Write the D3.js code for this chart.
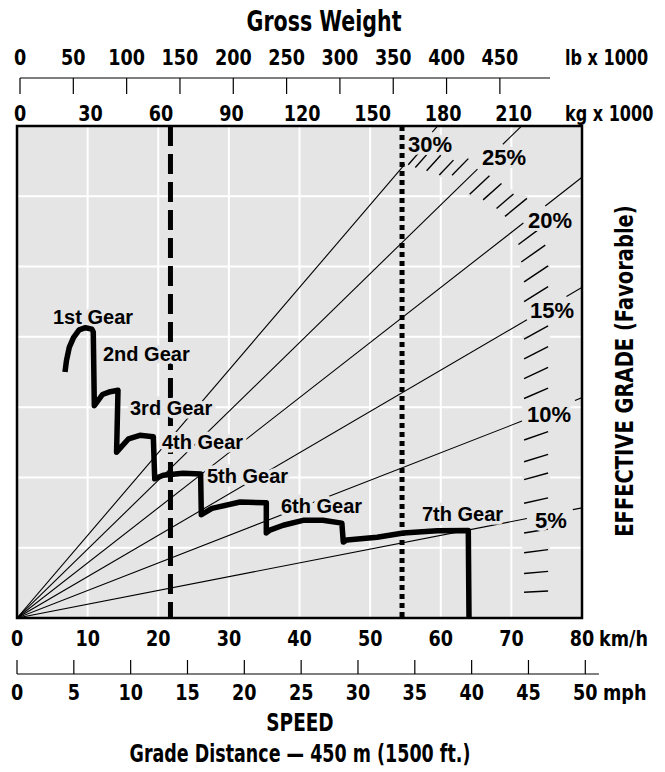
<!DOCTYPE html>
<html>
<head>
<meta charset="utf-8">
<script src="https://cdn.jsdelivr.net/npm/d3@7"></script>
<style>
  body { margin: 0; background: #fff; }
  .cond { font-family: "DejaVu Sans", sans-serif; font-weight: bold; }
  .reg { font-family: "Liberation Sans", Arial, sans-serif; font-weight: bold; }
</style>
</head>
<body>
<div class="container"></div>
<script>
"use strict";

// top axes (gross weight)
const lbTicks = [0, 50, 100, 150, 200, 250, 300, 350, 400, 450];
const kgTicks = [0, 30, 60, 90, 120, 150, 180, 210];
// bottom axes (speed)
const kmhTicks = [0, 10, 20, 30, 40, 50, 60, 70, 80];
const mphTicks = [0, 5, 10, 15, 20, 25, 30, 35, 40, 45, 50];

// empty / loaded gross weight, kg x 1000
const emptyKg = 64;
const loadedKg = 162.5;

// effective grade lines: [grade %, km/h where line stops, km/h where it starts again]
const gradeLines = [
  [5, 72.2, 78.7],
  [10, 71.5, 79.0],
  [15, 72.2, 77.8],
  [20, 71.7, 74.8],
  [25, 65.2, 68.8],
  [30, 54.9, 58.8]
];

// limit hatch marks: [grade %, inner km/h, outer km/h]
const hatchMarks = [
  [29.7, 55.4, 56.8], [29.0, 56.4, 58.2], [28.0, 58.0, 60.0], [26.9, 59.8, 61.8],
  [26.1, 61.6, 63.9], [24.0, 64.1, 66.9], [23.0, 66.0, 68.6], [21.9, 67.9, 70.3],
  [21.1, 69.1, 72.2], [19.1, 71.0, 74.3], [18.1, 71.4, 74.8], [17.0, 71.8, 75.2],
  [16.0, 71.8, 75.2], [14.1, 71.8, 75.2], [13.1, 71.8, 75.2], [12.1, 71.8, 75.2],
  [11.1, 71.8, 75.2], [9.0, 71.8, 75.2], [7.9, 71.8, 75.2], [7.0, 71.8, 75.2],
  [5.8, 71.8, 75.2], [4.3, 71.8, 75.2], [3.3, 71.8, 75.2], [2.25, 71.8, 75.2],
  [1.3, 71.8, 75.2]
];

// retarder curve per gear: [km/h, retarding force (grid units)]
const gearNames = ["1st Gear", "2nd Gear", "3rd Gear", "4th Gear", "5th Gear", "6th Gear", "7th Gear"];
const gear1 = [[6.8, 3.5], [7.0, 3.66], [7.4, 3.85], [8.0, 3.99], [8.8, 4.1], [9.7, 4.13], [10.6, 4.11], [10.8, 4.07]];
const gear2 = [[10.95, 3.02], [12.1, 3.18], [13.2, 3.22], [14.3, 3.24]];
const gear3 = [[14.1, 2.36], [15.8, 2.55], [17.4, 2.6], [19.3, 2.58]];
const gear4 = [[19.5, 1.98], [20.7, 2.03], [23.5, 2.06], [26.0, 2.05]];
const gear5 = [[26.1, 1.47], [27.6, 1.56], [31.6, 1.65], [35.3, 1.64]];
const gear6 = [[35.3, 1.21], [35.8, 1.25], [37.7, 1.32], [40.5, 1.39], [43.3, 1.39], [46.0, 1.35]];
const gear7 = [[46.2, 1.08], [46.7, 1.11], [51.0, 1.15], [54.7, 1.21], [59.5, 1.24], [63.9, 1.245], [64.0, 0]];
const gears = [gear1, gear2, gear3, gear4, gear5, gear6, gear7];

const makePlot = () => {
  const width = 665;
  const height = 772;
  const plot = { left: 17, right: 582, top: 126, bottom: 618 };
  const bg = "#e5e5e5";
  const LB_PER_KG = 2.20462;
  const KMH_PER_MPH = 1.609344;
  // force per % grade per km/h (grid units)
  const K = 0.0039188;
  // condensed look: squeeze the bold sans horizontally
  const SQ = 0.8;

  const x = d3.scaleLinear().domain([0, 80]).range([plot.left, plot.right]);
  const y = d3.scaleLinear().domain([0, 7]).range([plot.bottom, plot.top]);
  const lb = d3.scaleLinear().domain([0, 497]).range([20, 550]);
  const kg = (v) => lb(v * LB_PER_KG);
  const mph = (v) => x(v * KMH_PER_MPH);

  const svg = d3
    .select(".container")
    .append("svg")
    .attr("width", width)
    .attr("height", height);

  svg.append("defs").append("clipPath").attr("id", "clip")
    .append("rect")
    .attr("x", plot.left).attr("y", plot.top)
    .attr("width", plot.right - plot.left).attr("height", plot.bottom - plot.top);

  // condensed text helper
  const cText = (sel, tx, ty, size, anchor, sq) =>
    sel.attr("class", "cond")
      .attr("transform", (d, i) =>
        "translate(" + (typeof tx === "function" ? tx(d, i) : tx) + "," + ty + ") scale(" + (sq || SQ) + ",1)")
      .attr("text-anchor", anchor)
      .style("font-size", size + "px");

  //////////////////////////////////////////////
  // titles and top axes
  cText(svg.append("text"), 324, 31, 29, "middle", 0.71).text("Gross Weight");

  cText(svg.append("g").selectAll("text").data(lbTicks).enter().append("text"),
    (d) => lb(d), 65, 22, "middle").text((d) => d);
  cText(svg.append("text"), 565, 65, 22, "start", 0.73).text("lb x 1000");

  svg.append("line").attr("x1", lb(0)).attr("x2", lb(497))
    .attr("y1", 78).attr("y2", 78).attr("stroke", "#000").attr("stroke-width", 1.2);
  svg.append("g").selectAll("line").data(lbTicks).enter().append("line")
    .attr("x1", (d) => lb(d)).attr("x2", (d) => lb(d))
    .attr("y1", 78).attr("y2", 94).attr("stroke", "#000").attr("stroke-width", 1.2);

  cText(svg.append("g").selectAll("text").data(kgTicks).enter().append("text"),
    (d) => kg(d), 121, 22, "middle").text((d) => d);
  cText(svg.append("text"), 565, 121, 22, "start", 0.73).text("kg x 1000");

  //////////////////////////////////////////////
  // plot area
  svg.append("rect")
    .attr("x", plot.left).attr("y", plot.top)
    .attr("width", plot.right - plot.left).attr("height", plot.bottom - plot.top)
    .attr("fill", bg);

  const grid = svg.append("g").attr("stroke", "#fff").attr("stroke-width", 2);
  grid.selectAll(".vx").data(d3.range(10, 80, 10)).enter().append("line")
    .attr("x1", (d) => x(d)).attr("x2", (d) => x(d))
    .attr("y1", plot.top).attr("y2", plot.bottom);
  grid.selectAll(".hy").data(d3.range(1, 7)).enter().append("line")
    .attr("x1", plot.left).attr("x2", plot.right)
    .attr("y1", (d) => y(d)).attr("y2", (d) => y(d));

  // band behind the hatch marks hides the grid
  const inner = hatchMarks.map((h) => [x(h[1]), y(h[0] * K * h[1])]);
  const outer = hatchMarks.map((h) => [x(h[2]), y(h[0] * K * h[2])]).reverse();
  const last = hatchMarks[hatchMarks.length - 1];
  const band = inner
    .concat([[x(last[1]), y(0)], [x(last[2]), y(0)]])
    .concat(outer);
  svg.append("path")
    .attr("d", d3.line()(band) + "Z")
    .attr("fill", bg).attr("stroke", bg).attr("stroke-width", 4)
    .attr("clip-path", "url(#clip)");

  // grade lines from the origin
  const lines = svg.append("g").attr("clip-path", "url(#clip)")
    .attr("stroke", "#000").attr("stroke-width", 1.1).attr("fill", "none");
  gradeLines.forEach((g) => {
    lines.append("line")
      .attr("x1", x(0)).attr("y1", y(0))
      .attr("x2", x(g[1])).attr("y2", y(g[0] * K * g[1]));
    lines.append("line")
      .attr("x1", x(g[2])).attr("y1", y(g[0] * K * g[2]))
      .attr("x2", x(90)).attr("y2", y(g[0] * K * 90));
  });

  svg.append("g").attr("stroke", "#000").attr("stroke-width", 1.4)
    .selectAll("line").data(hatchMarks).enter().append("line")
    .attr("x1", (d) => x(d[1])).attr("y1", (d) => y(d[0] * K * d[1]))
    .attr("x2", (d) => x(d[2])).attr("y2", (d) => y(d[0] * K * d[2]));

  // empty and loaded weight lines
  svg.append("line")
    .attr("x1", kg(emptyKg)).attr("x2", kg(emptyKg))
    .attr("y1", plot.top).attr("y2", plot.bottom)
    .attr("stroke", "#000").attr("stroke-width", 5)
    .attr("stroke-dasharray", "20,8");
  svg.append("line")
    .attr("x1", kg(loadedKg)).attr("x2", kg(loadedKg))
    .attr("y1", plot.top).attr("y2", plot.bottom)
    .attr("stroke", "#000").attr("stroke-width", 5)
    .attr("stroke-dasharray", "5,4");

  // gear labels (with halo)
  const gearLabelPos = [[53, 324], [103, 361], [130, 415], [162, 449], [207, 483], [281, 513], [422, 521]];
  svg.append("g").selectAll("text").data(gearNames).enter().append("text")
    .attr("class", "reg")
    .attr("x", (d, i) => gearLabelPos[i][0]).attr("y", (d, i) => gearLabelPos[i][1])
    .style("font-size", "20px")
    .attr("stroke", bg).attr("stroke-width", 7).attr("stroke-linejoin", "round")
    .attr("paint-order", "stroke")
    .text((d) => d);

  // grade labels
  const gradeLabelPos = [[535, 528], [527, 422], [530, 318], [528, 228], [482, 165], [408, 152]];
  svg.append("g").selectAll("text").data(gradeLines).enter().append("text")
    .attr("class", "reg")
    .attr("x", (d, i) => gradeLabelPos[i][0]).attr("y", (d, i) => gradeLabelPos[i][1])
    .style("font-size", "22px")
    .attr("stroke", bg).attr("stroke-width", 6).attr("stroke-linejoin", "round")
    .attr("paint-order", "stroke")
    .text((d) => d[0] + "%");

  // retarder curve
  const allPts = [].concat(...gears);
  svg.append("path")
    .attr("d", d3.line().x((d) => x(d[0])).y((d) => y(d[1]))(allPts))
    .attr("fill", "none").attr("stroke", "#000").attr("stroke-width", 5.5)
    .attr("stroke-linejoin", "round");

  svg.append("rect")
    .attr("x", plot.left).attr("y", plot.top)
    .attr("width", plot.right - plot.left).attr("height", plot.bottom - plot.top)
    .attr("fill", "none").attr("stroke", "#000").attr("stroke-width", 2.5);

  //////////////////////////////////////////////
  // bottom axes
  cText(svg.append("g").selectAll("text").data(kmhTicks).enter().append("text"),
    (d) => x(d), 646, 22, "middle").text((d) => d);
  cText(svg.append("text"), 599, 646, 22, "start").text("km/h");

  svg.append("line").attr("x1", mph(0)).attr("x2", mph(51.2))
    .attr("y1", 674).attr("y2", 674).attr("stroke", "#000").attr("stroke-width", 1.2);
  svg.append("g").selectAll("line").data(mphTicks).enter().append("line")
    .attr("x1", (d) => mph(d)).attr("x2", (d) => mph(d))
    .attr("y1", 660).attr("y2", 674).attr("stroke", "#000").attr("stroke-width", 1.2);

  cText(svg.append("g").selectAll("text").data(mphTicks).enter().append("text"),
    (d) => mph(d), 700, 22, "middle").text((d) => d);
  cText(svg.append("text"), 603, 700, 22, "start").text("mph");

  cText(svg.append("text"), 300, 731, 24, "middle", 0.77).text("SPEED");
  cText(svg.append("text"), 300, 762, 25, "middle", 0.7)
    .text("Grade Distance \u2014 450 m (1500 ft.)");

  svg.append("text").attr("class", "cond")
    .attr("transform", "translate(633,371) rotate(-90) scale(0.78,1)")
    .attr("text-anchor", "middle").style("font-size", "25px")
    .text("EFFECTIVE GRADE (Favorable)");
};

makePlot();
</script>
</body>
</html>
